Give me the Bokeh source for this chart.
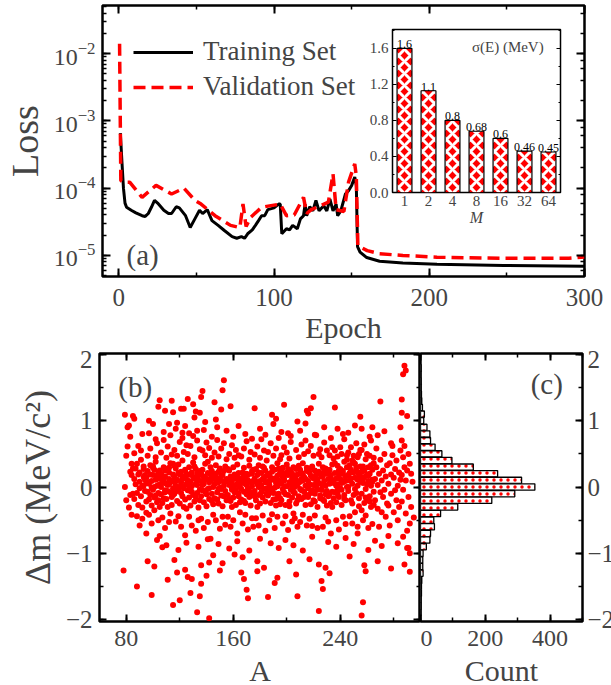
from bokeh.plotting import figure
from bokeh.layouts import column, row
from bokeh.models import (LinearAxis, LogAxis, Legend, LegendItem, Label, Range1d,
                          FactorRange, SingleIntervalTicker, LogTicker, PrintfTickFormatter,
                          CustomJSTickFormatter)
from bokeh.embed import file_html
from bokeh.resources import INLINE
from bokeh.core.properties import value

FONT = "Liberation Serif"

# ---------------- panel (a): loss curves ----------------
epoch_train = [1, 2, 3, 4, 5, 8, 11, 15, 17, 19, 21, 23, 25, 29, 32, 34, 37, 39, 43, 46,
               49, 52, 54, 57, 60, 64, 68, 73, 76, 79, 81, 83, 86, 88, 90, 92, 94, 96, 100, 103,
               104, 105, 108, 110, 112, 115, 117, 119, 120, 121, 123, 125, 127, 129, 132, 134, 136, 138, 140, 141,
               143, 146, 148, 150, 152, 153, 153.8, 155.4, 159.7, 168, 183, 205, 248, 300]
loss_train = [6.6e-4, 2.5e-4, 1.0e-4, 6.0e-5, 5.2e-5, 4.7e-5, 4.3e-5, 3.9e-5, 3.8e-5, 4.2e-5,
              5.2e-5, 6.6e-5, 6.0e-5, 4.7e-5, 4.2e-5, 4.2e-5, 5.3e-5, 5.1e-5, 3.9e-5, 2.6e-5,
              3.5e-5, 4.7e-5, 4.2e-5, 4.8e-5, 3.3e-5, 2.8e-5, 2.35e-5, 1.9e-5, 1.8e-5, 1.9e-5,
              1.8e-5, 2.1e-5, 2.4e-5, 2.8e-5, 3.3e-5, 3.9e-5, 3.9e-5, 4.8e-5, 5.1e-5, 5.8e-5,
              5.8e-5, 2.1e-5, 2.5e-5, 2.4e-5, 2.8e-5, 2.5e-5, 3.5e-5, 3.9e-5, 5.8e-5, 3.9e-5,
              5.3e-5, 4.6e-5, 6.6e-5, 4.6e-5, 5.5e-5, 4.6e-5, 6.9e-5, 4.6e-5, 5.8e-5, 3.9e-5,
              4.6e-5, 8.2e-5, 9.2e-5, 1.1e-4, 1.46e-4, 1.1e-4, 1.35e-5, 1.12e-5, 9.3e-6, 8.2e-6,
              7.7e-6, 7.4e-6, 7.1e-6, 6.9e-6]
epoch_val = [0.5, 1.3, 3, 7, 15, 24, 34, 42, 49, 53, 62, 72, 78, 80, 82, 85, 92, 98, 104, 108,
             113, 119, 121, 124, 130, 135, 138, 140, 145, 148, 152, 153, 154, 160, 168, 183, 205, 248, 290, 300]
loss_val = [1.4e-2, 1.3e-4, 1.23e-4, 1.23e-4, 7.3e-5, 1.1e-4, 8.2e-5, 1.0e-4, 6.6e-5, 5.8e-5,
            3.9e-5, 2.8e-5, 2.6e-5, 5.8e-5, 2.7e-5, 3.7e-5, 5.2e-5, 5.5e-5, 5.8e-5, 3.9e-5,
            4.0e-5, 7.3e-5, 4.2e-5, 4.8e-5, 5.5e-5, 6.2e-5, 1.63e-4, 4.8e-5, 4.5e-5, 1.23e-4,
            2.3e-4, 1.5e-4, 1.4e-5, 1.18e-5, 1.06e-5, 1.0e-5, 9.4e-6, 9.1e-6, 9.1e-6, 9.5e-6]
legend_labels = ["Training Set", "Validation Set"]

# ---------------- inset: sigma(E) vs M ----------------
M_labels = ["1", "2", "4", "8", "16", "32", "64"]
sigma_vals = [1.6, 1.13, 0.8, 0.68, 0.6, 0.46, 0.45]
sigma_text = ["1.6", "1.1", "0.8", "0.68", "0.6", "0.46", "0.45"]

# ---------------- panel (b): residuals vs A ----------------
scat_A = [
    78, 79, 79, 80, 80, 81, 81, 82, 82, 83,
    83, 84, 84, 85, 85, 85, 86, 86, 84, 83,
    86, 86, 87, 87, 88, 88, 89, 89, 90, 90,
    90, 91, 91, 92, 92, 93, 93, 94, 94, 95,
    91, 92, 93, 94, 95, 95, 88, 89, 90, 93,
    95, 96, 96, 97, 97, 98, 98, 99, 99, 100,
    100, 101, 101, 102, 102, 103, 103, 104, 104, 105,
    96, 97, 98, 99, 100, 101, 102, 103, 104, 105,
    97, 98, 99, 100, 101, 102, 103, 104, 105, 105,
    106, 106, 107, 107, 108, 108, 109, 109, 110, 110,
    111, 111, 112, 112, 113, 113, 114, 114, 115, 115,
    106, 107, 108, 109, 110, 111, 112, 113, 114, 115,
    106, 107, 108, 109, 110, 111, 112, 113, 114, 115,
    116, 116, 117, 117, 118, 118, 119, 119, 120, 120,
    121, 121, 122, 122, 123, 123, 124, 124, 125, 125,
    116, 117, 118, 119, 120, 121, 122, 123, 124, 125,
    116, 117, 118, 119, 120, 121, 122, 123, 124, 125,
    126, 126, 127, 127, 128, 128, 129, 129, 130, 130,
    131, 131, 132, 132, 133, 133, 134, 134, 135, 135,
    126, 127, 128, 129, 130, 131, 132, 133, 134, 135,
    126, 127, 128, 129, 130, 131, 132, 133, 134, 135,
    136, 136, 137, 137, 138, 138, 139, 139, 140, 140,
    141, 141, 142, 142, 143, 143, 144, 144, 145, 145,
    136, 137, 138, 139, 140, 141, 142, 143, 144, 145,
    136, 137, 138, 139, 140, 141, 142, 143, 144, 145,
    146, 146, 147, 147, 148, 148, 149, 149, 150, 150,
    151, 151, 152, 152, 153, 153, 154, 154, 155, 155,
    146, 147, 148, 149, 150, 151, 152, 153, 154, 155,
    146, 147, 148, 149, 150, 151, 152, 153, 154, 155,
    156, 156, 157, 157, 158, 158, 159, 159, 160, 160,
    161, 161, 162, 162, 163, 163, 164, 164, 165, 165,
    156, 157, 158, 159, 160, 161, 162, 163, 164, 165,
    156, 157, 158, 159, 160, 161, 162, 163, 164, 165,
    166, 166, 167, 167, 168, 168, 169, 169, 170, 170,
    171, 171, 172, 172, 173, 173, 174, 174, 175, 175,
    166, 167, 168, 169, 170, 171, 172, 173, 174, 175,
    166, 167, 168, 169, 170, 171, 172, 173, 174, 175,
    176, 176, 177, 177, 178, 178, 179, 179, 180, 180,
    181, 181, 182, 182, 183, 183, 184, 184, 185, 185,
    176, 177, 178, 179, 180, 181, 182, 183, 184, 185,
    176, 177, 178, 179, 180, 181, 182, 183, 184, 185,
    186, 186, 187, 187, 188, 188, 189, 189, 190, 190,
    191, 191, 192, 192, 193, 193, 194, 194, 195, 195,
    186, 187, 188, 189, 190, 191, 192, 193, 194, 195,
    186, 187, 188, 189, 190, 191, 192, 193, 194, 195,
    196, 196, 197, 197, 198, 198, 199, 199, 200, 200,
    201, 201, 202, 202, 203, 203, 204, 204, 205, 205,
    196, 197, 198, 199, 200, 201, 202, 203, 204, 205,
    196, 197, 198, 199, 200, 201, 202, 203, 204, 205,
    206, 206, 207, 207, 208, 208, 209, 209, 210, 210,
    211, 211, 212, 212, 213, 213, 214, 214, 215, 215,
    206, 207, 208, 209, 210, 211, 212, 213, 214, 215,
    206, 207, 208, 209, 210, 211, 212, 213, 214, 215,
    216, 216, 217, 217, 218, 218, 219, 219, 220, 220,
    221, 221, 222, 222, 223, 223, 224, 224, 225, 225,
    216, 217, 218, 219, 220, 221, 222, 223, 224, 225,
    216, 217, 218, 219, 220, 221, 222, 223, 224, 225,
    226, 226, 227, 227, 228, 228, 229, 229, 230, 230,
    231, 231, 232, 232, 233, 233, 234, 234, 235, 235,
    226, 227, 228, 229, 230, 231, 232, 233, 234, 235,
    226, 227, 228, 229, 230, 231, 232, 233, 234, 235,
    236, 236, 237, 237, 238, 238, 239, 239, 240, 240,
    241, 241, 242, 242, 243, 243, 244, 244, 245, 245,
    236, 237, 238, 239, 240, 241, 242, 243, 244, 245,
    236, 237, 238, 239, 240, 241, 242, 243, 244, 245,
    246, 246, 247, 247, 248, 248, 249, 249, 250, 250,
    251, 251, 252, 252, 253, 253, 254, 254, 255, 255,
    246, 247, 248, 249, 250, 251, 252, 253, 254, 255,
    246, 247, 248, 249, 250, 251, 252, 253, 254, 255,
    256, 256, 257, 257, 258, 258, 259, 259, 260, 260,
    261, 261, 262, 262, 263, 263, 264, 264, 265, 265,
    256, 257, 258, 259, 260, 261, 262, 263, 264, 265,
    256, 257, 258, 259, 260, 261, 262, 263, 264, 265,
    266, 266, 267, 268, 268, 269, 270, 270, 271, 272,
    272, 273, 273, 274, 274, 275, 275, 267, 269, 271,
    276, 276, 277, 278, 278, 279, 280, 280, 281, 282,
    282, 283, 283, 284, 284, 285, 285, 277, 279, 281,
    286, 286, 287, 287, 288, 289, 289, 290, 291, 292,
    292, 293, 294, 295, 288, 290, 287, 291, 293, 286,
    88, 99, 96, 97, 105, 109, 115, 121, 123, 126,
    132, 135, 136, 137, 153, 152, 151, 111, 115, 118,
    120, 126, 129, 128, 135, 133, 136, 136, 142, 142,
    145, 150, 161, 166, 168, 170, 171, 178, 178, 186,
    189, 191, 193, 192, 208, 207, 208, 201, 220, 218,
    216, 217, 224, 227, 226, 224, 229, 256, 257, 258,
    259, 256, 268, 270, 268, 278, 278, 288, 289, 287,
    286, 286, 288, 290, 290, 292, 292, 285, 264, 242,
    107, 105, 100, 97, 112, 118, 124, 131, 139, 147,
    103, 110, 119, 125, 134, 141, 149, 157, 163, 172,
    102, 108, 113, 117, 122, 127, 133, 138, 144, 148,
    155, 160, 164, 169, 174, 180, 184, 190, 196, 203,
    210, 214, 221, 228, 233, 238, 246, 251, 262, 273,
    180, 188, 194, 199, 205, 212, 219, 231, 237, 244,
    250, 253, 261, 266, 271, 276, 283, 291, 95, 92,
    104, 114, 130, 146, 158, 176, 198, 215, 236, 255,
    101, 116, 124, 140, 152, 167, 183, 202, 232, 247,
    112, 128, 143, 159, 171, 187, 199, 211, 226, 241,
    109, 121, 138, 149, 162, 179, 193, 207, 222, 238,
]
scat_dm = [
    -1.26, 0.00, 1.09, -0.20, 0.47, 0.90, 0.61, 0.93, -0.31, 0.76,
    -0.12, 0.35, 0.18, 1.07, 0.28, -0.10, 1.03, 0.51, -0.42, 0.23,
    0.12, -0.18, 0.28, 0.04, -0.09, 0.35, 0.19, -0.27, 0.08, -0.02,
    0.22, -0.14, 0.41, 0.01, -0.31, 0.15, 0.27, -0.06, 0.11, -0.22,
    0.55, -0.48, 0.31, 0.18, 0.06, -0.39, -0.44, 0.62, -0.58, 0.02,
    0.14, -0.07, 0.24, -0.19, 0.05, 0.33, -0.12, 0.09, -0.28, 0.18,
    -0.04, 0.26, -0.16, 0.11, 0.38, -0.23, 0.02, 0.21, -0.09, 0.13,
    0.47, -0.42, 0.58, -0.55, 0.29, -0.35, 0.45, 0.66, -0.50, -0.30,
    0.07, 0.19, -0.01, 0.31, 0.00, -0.13, 0.17, -0.20, 0.25, 0.04,
    -0.11, 0.20, 0.06, -0.24, 0.30, 0.10, -0.05, 0.16, -0.18, 0.27,
    0.03, -0.30, 0.22, 0.12, -0.08, 0.36, 0.08, -0.15, 0.19, -0.02,
    0.52, -0.46, 0.71, -0.62, 0.44, 0.61, -0.53, -0.40, 0.49, 0.35,
    0.00, 0.14, -0.17, 0.25, 0.05, -0.06, 0.29, 0.09, -0.27, -0.12,
    0.15, -0.10, 0.28, 0.02, -0.21, 0.11, 0.34, -0.03, 0.19, -0.25,
    0.07, 0.23, -0.14, 0.40, -0.02, 0.16, 0.26, -0.19, 0.04, -0.33,
    0.56, -0.52, 0.47, -0.44, 0.68, -0.60, 0.82, 0.53, -0.73, 0.63,
    0.32, 0.09, -0.06, 0.21, 0.00, -0.09, 0.12, -0.30, 0.13, 0.20,
    -0.05, 0.18, 0.30, -0.16, 0.08, -0.28, 0.22, 0.01, -0.12, 0.37,
    0.13, -0.22, 0.05, 0.27, -0.09, 0.20, -0.31, 0.10, 0.24, -0.04,
    0.50, -0.45, 0.62, -0.58, 0.77, 0.45, -0.66, 0.85, -0.50, 0.57,
    0.10, 0.02, 0.19, -0.07, 0.15, 0.31, -0.15, 0.03, 0.17, -0.20,
    0.09, -0.14, 0.26, 0.03, -0.23, 0.16, 0.35, -0.07, 0.12, -0.29,
    0.21, -0.03, 0.07, -0.18, 0.30, 0.11, -0.10, 0.24, 0.00, -0.26,
    -0.48, 0.55, -0.62, 0.48, 0.67, -0.53, 0.59, -0.78, 0.44, -0.42,
    0.20, -0.05, 0.05, 0.14, -0.11, 0.38, -0.02, 0.19, -0.21, 0.13,
    0.04, -0.17, 0.20, 0.33, -0.08, 0.13, -0.25, 0.07, 0.28, -0.01,
    -0.13, 0.17, 0.09, -0.29, 0.24, 0.02, -0.06, 0.31, 0.12, -0.20,
    0.52, -0.50, 0.71, 0.46, -0.63, 0.58, -0.45, 0.66, -0.57, 0.42,
    0.15, 0.06, -0.19, 0.23, 0.10, -0.03, 0.18, -0.14, 0.08, 0.27,
    0.11, -0.12, 0.03, 0.25, -0.21, 0.16, 0.08, -0.04, 0.30, -0.16,
    0.19, -0.08, -0.27, 0.13, 0.05, 0.34, -0.14, 0.21, 0.00, -0.23,
    -0.45, 0.50, -0.60, 0.63, -0.50, 0.44, 0.56, -0.70, 0.48, -0.38,
    0.27, -0.18, 0.09, -0.30, 0.14, 0.02, -0.05, 0.18, -0.10, 0.12,
    0.06, -0.19, 0.22, 0.10, -0.07, 0.29, -0.24, 0.15, 0.03, -0.11,
    0.18, -0.02, 0.32, -0.15, 0.08, -0.28, 0.20, 0.01, -0.09, 0.26,
    0.46, -0.55, 0.58, -0.42, 0.69, -0.64, 0.41, 0.53, -0.47, -0.60,
    -0.03, 0.14, -0.21, 0.05, 0.20, 0.10, -0.06, -0.13, 0.24, 0.09,
    0.13, -0.06, 0.27, -0.20, 0.04, 0.18, -0.12, 0.33, 0.09, -0.25,
    0.02, 0.21, -0.16, 0.12, 0.29, -0.03, 0.07, -0.22, 0.17, -0.10,
    0.49, -0.47, 0.61, -0.58, 0.44, 0.72, -0.43, 0.55, -0.66, 0.40,
    -0.14, 0.08, -0.30, 0.22, 0.00, -0.08, 0.31, 0.14, 0.25, -0.02,
    0.08, -0.13, 0.20, 0.03, -0.24, 0.14, 0.30, -0.06, 0.11, -0.19,
    0.26, -0.01, 0.06, -0.28, 0.17, 0.36, -0.10, 0.10, -0.17, 0.22,
    0.53, -0.50, 0.66, -0.41, 0.47, -0.62, 0.58, -0.45, 0.74, 0.42,
    0.18, 0.09, -0.03, 0.23, -0.09, 0.13, -0.18, 0.01, 0.28, -0.26,
    0.05, -0.20, 0.16, 0.29, -0.08, 0.10, -0.27, 0.21, 0.01, 0.34,
    -0.12, 0.18, 0.07, -0.22, 0.25, -0.04, 0.13, -0.16, 0.30, 0.06,
    0.48, -0.55, 0.60, -0.44, 0.52, -0.65, 0.43, 0.68, -0.52, -0.40,
    0.23, -0.03, 0.12, -0.11, 0.19, 0.27, -0.29, 0.04, 0.20, -0.07,
    0.14, -0.09, 0.27, -0.25, 0.03, 0.19, -0.14, 0.32, 0.08, -0.03,
    0.21, -0.18, 0.10, 0.36, -0.07, 0.15, 0.02, -0.27, 0.24, -0.12,
    -0.47, 0.56, -0.60, 0.45, -0.53, 0.64, -0.42, 0.50, 0.70, -0.58,
    0.00, 0.11, -0.20, 0.07, 0.26, -0.05, 0.18, -0.15, 0.12, 0.29,
    0.09, -0.15, 0.22, 0.04, -0.26, 0.17, 0.31, -0.05, 0.13, -0.20,
    0.25, -0.10, 0.01, 0.19, -0.30, 0.12, 0.06, 0.35, -0.13, 0.20,
    0.54, -0.48, 0.62, -0.59, 0.47, -0.43, 0.78, -0.62, 0.50, 0.57,
    -0.02, 0.28, -0.09, 0.15, 0.03, -0.22, 0.10, -0.04, 0.23, -0.17,
    0.16, -0.04, 0.30, -0.19, 0.09, 0.24, -0.11, 0.02, 0.20, -0.28,
    0.12, -0.14, 0.26, 0.05, -0.24, 0.18, 0.34, -0.07, 0.10, -0.17,
    0.45, -0.60, 0.67, -0.46, 0.55, -0.52, 0.48, -0.70, 0.60, 0.43,
    0.04, 0.17, -0.21, 0.28, -0.06, 0.22, -0.10, 0.13, -0.30, 0.06,
    0.21, -0.08, 0.13, -0.23, 0.32, 0.04, -0.15, 0.19, 0.27, -0.02,
    0.10, -0.27, 0.24, 0.07, -0.12, 0.38, 0.16, -0.20, 0.30, 0.00,
    0.55, -0.50, 0.46, -0.64, 0.60, 0.50, -0.45, 0.72, -0.56, 0.48,
    0.36, 0.02, -0.10, 0.25, 0.12, -0.04, 0.20, -0.18, 0.09, 0.41,
    0.18, -0.06, 0.33, 0.10, -0.20, 0.26, 0.05, 0.40, -0.12, 0.22,
    0.14, 0.35, -0.09, 0.29, 0.02, 0.45, -0.17, 0.19, 0.31, 0.08,
    0.52, -0.44, 0.60, -0.55, 0.47, -0.38, 0.66, -0.60, 0.50, 0.56,
    0.00, 0.21, 0.13, -0.25, 0.37, -0.03, 0.24, 0.11, -0.29, 0.16,
    0.23, -0.10, 0.06, 0.31, -0.24, 0.15, 0.42, -0.03, 0.19, -0.18,
    0.09, 0.30, -0.14, 0.20, 0.02, -0.30, 0.26, 0.11, -0.07, 0.36,
    0.56, -0.50, 0.64, -0.43, 0.50, -0.62, 0.47, 0.70, -0.56, 0.44,
    -0.35, 0.12, 0.25, -0.16, 0.04, 0.17, -0.22, 0.33, 0.08, -0.27,
    0.12, -0.20, 0.30, 0.03, -0.33, 0.20, -0.08, 0.41, 0.10, -0.15,
    0.25, -0.04, 0.50, 0.16, -0.45, 0.33, -0.25, 0.58, -0.60, -0.38,
    0.05, -0.28, 0.36, 0.19, -0.10, 0.48, -0.38, 0.14, 0.27, -0.20,
    0.40, 0.02, -0.50, 0.22, -0.30, 0.11, 0.55, -0.58, 0.62, -0.05,
    0.18, -0.22, 0.45, -0.04, 0.30, -0.40, 0.10, 0.25, -0.15, -0.55,
    0.35, -0.30, 0.08, -0.46, 0.62, -0.66, -0.75, 0.50, 0.20, 0.70,
    -1.50, -1.63, -1.12, 0.81, 1.31, 1.15, 1.13, 1.18, 1.18, 1.33,
    1.14, 1.12, 1.36, 1.45, 1.61, 1.46, 1.17, -1.40, -1.78, -1.29,
    -1.71, -1.36, -1.39, -1.60, -1.65, -1.89, -1.46, -1.18, -1.98, -1.14,
    -1.03, -1.26, -1.02, -1.29, -1.39, -1.55, -1.68, -1.27, -1.12, -1.66,
    1.09, -1.45, -1.37, 1.03, -1.65, -1.32, 0.99, 0.81, 1.36, 1.19,
    1.11, -1.09, -1.87, -1.54, -1.42, -1.17, -1.22, -1.94, -1.74, -1.18,
    -1.27, 0.88, -1.12, 1.29, 0.78, -1.23, 0.66, 1.83, 1.76, 1.70,
    1.32, 1.12, -1.17, -0.92, 1.07, -1.28, -1.00, 0.90, 0.90, 0.80,
    -0.91, -0.74, 0.95, 1.00, 0.95, 0.97, 0.92, 1.05, 0.98, 1.02,
    -0.80, -0.88, -0.95, -0.84, -0.90, -0.79, -0.86, -0.93, -0.82, -0.96,
    0.72, 0.83, 0.78, 0.88, 0.74, 0.81, 0.70, 0.86, 0.76, 0.90,
    0.85, 0.76, 0.92, 0.80, 0.73, 0.88, 0.79, 0.95, 0.83, 0.77,
    0.85, 0.96, 0.79, 0.90, 0.74, 0.88, 0.82, 0.93, 0.76, 0.84,
    -0.78, -0.85, -0.92, -0.80, -0.88, -0.96, -0.75, -0.83, -0.90, -0.77,
    -0.86, -0.70, -0.95, -0.81, -0.89, -0.74, -0.85, -0.92, -0.70, 0.80,
    1.21, 1.30, 1.25, 1.28, 1.22, 1.19, 1.24, 1.15, 1.20, 1.06,
    -1.20, -1.10, -1.25, -1.34, -1.15, -1.06, -1.22, -1.12, -1.30, -1.05,
    0.04, -0.06, 0.10, -0.02, 0.07, -0.09, 0.01, 0.12, -0.04, 0.06,
    -0.08, 0.03, 0.09, -0.03, 0.14, 0.00, -0.11, 0.05, 0.02, -0.05,
]

# ---------------- panel (c): histogram of residuals ----------------
hist_dm = [1.8, 1.7, 1.6, 1.5, 1.4, 1.3, 1.2, 1.1, 1.0, 0.9, 0.8, 0.7, 0.6, 0.5, 0.4, 0.3,
           0.2, 0.1, 0.0, -0.1, -0.2, -0.3, -0.4, -0.5, -0.6, -0.7, -0.8, -0.9, -1.0, -1.1,
           -1.2, -1.3, -1.4, -1.5, -1.6, -1.7, -1.8, -1.9]
hist_count = [2, 1, 2, 2, 3, 4, 6, 12, 10, 20, 29, 31, 45, 66, 97, 163, 238, 312, 353, 291,
              220, 115, 62, 41, 43, 31, 29, 18, 8, 7, 7, 8, 4, 3, 3, 2, 2, 1]

n_sc = min(len(scat_A), len(scat_dm))


def style_axis(ax, size="25px", tick_in=8, minor_in=4, labels=True):
    ax.axis_line_color = None
    ax.major_tick_in = tick_in
    ax.major_tick_out = 0
    ax.minor_tick_in = minor_in
    ax.minor_tick_out = 0
    ax.major_tick_line_width = 2
    ax.minor_tick_line_width = 1.5
    ax.major_label_text_font = FONT
    ax.axis_label_text_font = FONT
    ax.axis_label_text_font_style = "normal"
    if labels:
        ax.major_label_text_font_size = size
    else:
        ax.formatter = CustomJSTickFormatter(code="return ''")
        ax.major_label_text_font_size = "2px"
        ax.major_label_standoff = 0


def frame_style(p, lw=2.5):
    p.outline_line_color = "black"
    p.outline_line_width = lw
    p.outline_line_alpha = 1
    p.xgrid.visible = False
    p.ygrid.visible = False
    p.background_fill_color = "white"


# ======== panel (a) ========
pa = figure(output_backend="svg", toolbar_location=None, y_axis_type="log",
            frame_width=482, frame_height=271,
            x_range=Range1d(-10.5, 300), y_range=Range1d(10 ** -5.313, 10 ** -1.284),
            min_border_left=99, min_border_right=22, min_border_top=5, min_border_bottom=74)
frame_style(pa)
r_train = pa.line(epoch_train, loss_train, line_color="black", line_width=3)
r_val = pa.line(epoch_val, loss_val, line_color="red", line_width=3.5, line_dash="12 6")

pa.xaxis.ticker = SingleIntervalTicker(interval=100, num_minor_ticks=2)
style_axis(pa.xaxis[0], size="25px")
pa.xaxis.major_label_standoff = 12
pa.xaxis.axis_label = "Epoch"
pa.xaxis.axis_label_text_font_size = "30px"
pa.xaxis.axis_label_standoff = 2

style_axis(pa.yaxis[0], size="24px")
pa.yaxis.major_label_standoff = 7
pa.yaxis.axis_label = "Loss"
pa.yaxis.axis_label_text_font_size = "38px"
pa.yaxis.axis_label_standoff = 5

a_top = LinearAxis(ticker=SingleIntervalTicker(interval=100, num_minor_ticks=2))
style_axis(a_top, labels=False)
pa.add_layout(a_top, "above")
a_right = LogAxis(ticker=LogTicker())
style_axis(a_right, labels=False)
pa.add_layout(a_right, "right")

legend = Legend(items=[LegendItem(label=legend_labels[0], renderers=[r_train]),
                       LegendItem(label=legend_labels[1], renderers=[r_val])],
                location="top_left", border_line_color=None, background_fill_alpha=0,
                label_text_font=FONT, label_text_font_size="27px",
                glyph_width=60, glyph_height=30, label_height=30, spacing=4,
                margin=31, padding=0, label_standoff=10)
pa.add_layout(legend)
pa.add_layout(Label(x=5, y=1e-5, text="(a)", text_font=FONT, text_font_size="29px",
                    text_baseline="middle"))

# ======== inset ========
pin = figure(output_backend="svg", toolbar_location=None,
             x_range=FactorRange(*M_labels), y_range=Range1d(0, 1.81),
             frame_width=168, frame_height=163,
             min_border_left=36, min_border_right=4, min_border_top=4, min_border_bottom=40)
frame_style(pin, lw=1.5)
pin.border_fill_alpha = 0
pin.vbar(x=M_labels, top=sigma_vals, width=0.62, fill_color="red",
         hatch_pattern="diagonal_cross", hatch_color="white", hatch_weight=3, hatch_scale=12,
         line_color="black", line_width=1.2)
pin.text(x=M_labels, y=sigma_vals, text=sigma_text, text_align="center", text_baseline="bottom",
         text_font=value(FONT), text_font_size=value("12px"), text_color="black")
pin.add_layout(Label(x=6.3, y=1.62, text="σ(E) (MeV)", text_font=FONT, text_font_size="15px",
                     text_align="right", text_baseline="middle"))
style_axis(pin.xaxis[0], size="15px", tick_in=0, minor_in=0)
pin.xaxis.major_label_standoff = 3
pin.xaxis.axis_label = "M"
pin.xaxis.axis_label_text_font_size = "16px"
pin.xaxis.axis_label_text_font_style = "italic"
pin.xaxis.axis_label_standoff = 0
pin.yaxis.ticker = SingleIntervalTicker(interval=0.4, num_minor_ticks=2)
pin.yaxis.formatter = PrintfTickFormatter(format="%.1f")
style_axis(pin.yaxis[0], size="15px", tick_in=4, minor_in=2)
pin.yaxis.major_tick_line_width = 1
pin.yaxis.minor_tick_line_width = 1
pin.yaxis.major_label_standoff = 4
in_right = LinearAxis(ticker=SingleIntervalTicker(interval=0.4, num_minor_ticks=2))
style_axis(in_right, tick_in=4, minor_in=2, labels=False)
in_right.major_tick_line_width = 1
in_right.minor_tick_line_width = 1
pin.add_layout(in_right, "right")
inset_box = row(pin)
inset_box.styles = {"position": "absolute", "left": "356px", "top": "25px", "z-index": "5"}

# ======== panel (b) ========
shared_y = Range1d(-2.03, 2.015)
pb = figure(output_backend="svg", toolbar_location=None,
            x_range=Range1d(60, 300), y_range=shared_y,
            frame_width=321, frame_height=268,
            min_border_left=99, min_border_right=0, min_border_top=3, min_border_bottom=72)
frame_style(pb)
pb.scatter(x=scat_A[:n_sc], y=scat_dm[:n_sc], size=6, fill_color="red", line_color=None)
pb.xaxis.ticker = SingleIntervalTicker(interval=80, num_minor_ticks=2)
style_axis(pb.xaxis[0], size="24px", tick_in=7, minor_in=4)
pb.xaxis.major_label_standoff = 9
pb.xaxis.axis_label = "A"
pb.xaxis.axis_label_text_font_size = "30px"
pb.xaxis.axis_label_standoff = 5
pb.yaxis.ticker = SingleIntervalTicker(interval=1, num_minor_ticks=2)
style_axis(pb.yaxis[0], size="25px", tick_in=7, minor_in=4)
pb.yaxis.major_label_standoff = 7
pb.yaxis.axis_label = "Δm (MeV/c²)"
pb.yaxis.axis_label_text_font_size = "36px"
pb.yaxis.axis_label_standoff = 5
b_top = LinearAxis(ticker=SingleIntervalTicker(interval=80, num_minor_ticks=2))
style_axis(b_top, tick_in=7, minor_in=4, labels=False)
pb.add_layout(b_top, "above")
b_right = LinearAxis(ticker=SingleIntervalTicker(interval=1, num_minor_ticks=2))
style_axis(b_right, tick_in=7, minor_in=4, labels=False)
pb.add_layout(b_right, "right")
pb.add_layout(Label(x=74, y=1.51, text="(b)", text_font=FONT, text_font_size="29px",
                    text_baseline="middle"))

# ======== panel (c) ========
pc = figure(output_backend="svg", toolbar_location=None, y_axis_location="right",
            x_range=Range1d(0, 500), y_range=shared_y,
            frame_width=162, frame_height=268,
            min_border_left=0, min_border_right=30, min_border_top=3, min_border_bottom=72)
frame_style(pc)
pc.hbar(y=hist_dm, right=hist_count, left=0, height=0.095, fill_color="white",
        hatch_pattern="dot", hatch_color="red", hatch_scale=7, hatch_weight=3.5,
        line_color="black", line_width=1.3)
pc.xaxis.ticker = SingleIntervalTicker(interval=200, num_minor_ticks=2)
style_axis(pc.xaxis[0], size="24px", tick_in=7, minor_in=4)
pc.xaxis.major_label_standoff = 9
pc.xaxis.axis_label = "Count"
pc.xaxis.axis_label_text_font_size = "30px"
pc.xaxis.axis_label_standoff = 5
pc.yaxis.ticker = SingleIntervalTicker(interval=1, num_minor_ticks=2)
style_axis(pc.yaxis[0], size="25px", tick_in=7, minor_in=4)
pc.yaxis.major_label_standoff = 5
c_top = LinearAxis(ticker=SingleIntervalTicker(interval=200, num_minor_ticks=2))
style_axis(c_top, tick_in=7, minor_in=4, labels=False)
pc.add_layout(c_top, "above")
pc.add_layout(Label(x=340, y=1.55, text="(c)", text_font=FONT, text_font_size="29px",
                    text_baseline="middle"))

p = column(pa, row(pb, pc), inset_box)
open("out.html", "w").write(file_html(p, INLINE))
